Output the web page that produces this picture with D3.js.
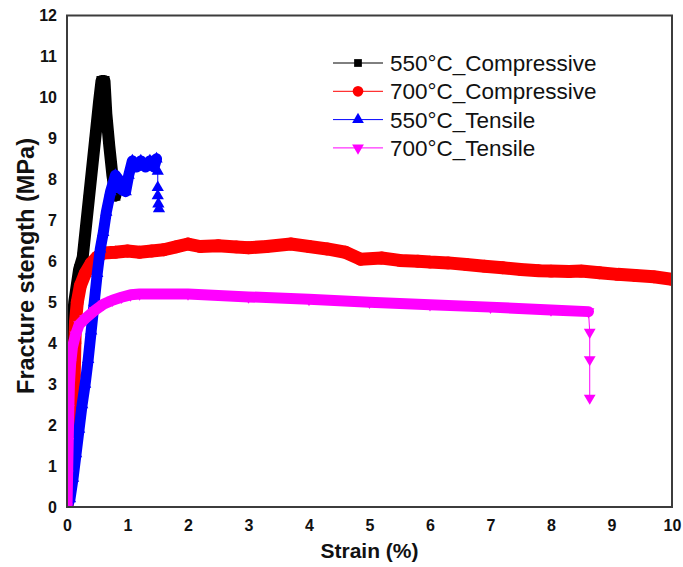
<!DOCTYPE html>
<html>
<head>
<meta charset="utf-8">
<script src="https://cdn.jsdelivr.net/npm/d3@7"></script>
<style>
  body { margin: 0; background: #fff; }
  svg { display: block; font-family: Arial, "Liberation Sans", sans-serif; }
</style>
</head>
<body>
<div id="chart"></div>
<script>
'use strict';

// tick labels
var xTicks = [0, 1, 2, 3, 4, 5, 6, 7, 8, 9, 10];
var yTicks = [0, 1, 2, 3, 4, 5, 6, 7, 8, 9, 10, 11, 12];

var seriesNames = ["550°C_Compressive", "700°C_Compressive", "550°C_Tensile", "700°C_Tensile"];

// 550°C compressive (strain %, MPa)
var comp550Strain = [0, 0.01, 0.02, 0.06, 0.12, 0.2, 0.26, 0.36, 0.46, 0.53, 0.57, 0.62, 0.65, 0.7, 0.75, 0.8];
var comp550Stress = [0, 1.5, 3.0, 4.0, 5.0, 5.8, 6.1, 7.5, 8.9, 9.9, 10.4, 10.4, 9.6, 8.8, 8.1, 7.6];

// 700°C compressive
var comp700Strain = [0, 0.04, 0.08, 0.1, 0.12, 0.13, 0.14, 0.17, 0.22, 0.3, 0.4, 0.5, 0.6, 0.8, 1.0, 1.2, 1.4, 1.6, 1.8, 2.0, 2.2, 2.5, 2.8, 3.0, 3.3, 3.7, 4.0, 4.3, 4.6, 4.85, 5.2, 5.5, 5.8, 6.0, 6.3, 6.6, 6.9, 7.2, 7.5, 7.8, 8.0, 8.3, 8.5, 8.8, 9.1, 9.4, 9.7, 10.0];
var comp700Stress = [0, 0.8, 1.6, 2.4, 3.2, 4.0, 4.5, 5.0, 5.4, 5.7, 5.95, 6.1, 6.2, 6.22, 6.25, 6.22, 6.25, 6.28, 6.35, 6.42, 6.36, 6.38, 6.35, 6.33, 6.36, 6.42, 6.36, 6.3, 6.22, 6.05, 6.08, 6.02, 6.0, 5.98, 5.96, 5.92, 5.88, 5.84, 5.8, 5.77, 5.76, 5.75, 5.76, 5.72, 5.68, 5.65, 5.62, 5.56];

// 550°C tensile
var tens550Strain = [0, 0.05, 0.1, 0.15, 0.2, 0.25, 0.3, 0.35, 0.4, 0.45, 0.5, 0.55, 0.6, 0.65, 0.72, 0.8, 0.85, 0.9, 0.97, 1.02, 1.08, 1.15, 1.22, 1.3, 1.37, 1.44, 1.48];
var tens550Stress = [0, 0.2, 0.7, 1.3, 1.9, 2.5, 3.0, 3.6, 4.3, 5.0, 5.7, 6.3, 6.7, 7.2, 7.7, 8.1, 8.0, 7.75, 7.7, 8.1, 8.45, 8.3, 8.45, 8.3, 8.45, 8.3, 8.5];
var tens550TailStrain = [1.5, 1.5, 1.5, 1.51, 1.52];
var tens550TailStress = [8.2, 7.8, 7.6, 7.4, 7.28];

// 700°C tensile
var tens700Strain = [0, 0.01, 0.02, 0.03, 0.04, 0.06, 0.09, 0.14, 0.2, 0.3, 0.46, 0.6, 0.75, 0.9, 1.05, 1.2, 2.0, 3.0, 4.0, 5.0, 6.0, 7.0, 8.0, 8.62];
var tens700Stress = [0, 0.8, 1.6, 2.4, 3.0, 3.5, 3.9, 4.2, 4.45, 4.6, 4.8, 4.95, 5.05, 5.12, 5.18, 5.2, 5.2, 5.13, 5.07, 5.0, 4.94, 4.88, 4.81, 4.77];
var tens700TailStrain = [8.64, 8.64, 8.64];
var tens700TailStress = [4.27, 3.6, 2.66];

var zip = function (xs, ys) { return xs.map(function (v, i) { return [v, ys[i]]; }); };

var series = [
    { name: seriesNames[0], color: "#000000", symbol: d3.symbolSquare, size: 100, rot: 0, band: 12,
      pts: zip(comp550Strain, comp550Stress), tail: [] },
    { name: seriesNames[1], color: "#ff0000", symbol: d3.symbolCircle, size: 130, rot: 0, band: 13,
      pts: zip(comp700Strain, comp700Stress), tail: [] },
    { name: seriesNames[2], color: "#0000ff", symbol: d3.symbolTriangle, size: 65, rot: 0, band: 11,
      pts: zip(tens550Strain, tens550Stress), tail: zip(tens550TailStrain, tens550TailStress) },
    { name: seriesNames[3], color: "#ff00ff", symbol: d3.symbolTriangle, size: 60, rot: 180, band: 11,
      pts: zip(tens700Strain, tens700Stress), tail: zip(tens700TailStrain, tens700TailStress) }
];

var W = 683, H = 567;
var margin = { top: 15.5, right: 11, bottom: 60, left: 67 };

var x = d3.scaleLinear().domain([0, 10]).range([margin.left, W - margin.right]);
var y = d3.scaleLinear().domain([0, 12]).range([H - margin.bottom, margin.top]);

var svg = d3.select("#chart").append("svg")
    .attr("width", W)
    .attr("height", H);

svg.append("defs").append("clipPath")
    .attr("id", "plotclip")
    .append("rect")
    .attr("x", x(0)).attr("y", y(12))
    .attr("width", x(10) - x(0)).attr("height", y(0) - y(12));

var line = d3.line()
    .x(function (d) { return x(d[0]); })
    .y(function (d) { return y(d[1]); });

var plot = svg.append("g").attr("clip-path", "url(#plotclip)");

series.forEach(function (s) {
    var g = plot.append("g");
    // dense marker band
    g.append("path")
        .datum(s.pts)
        .style("fill", "none")
        .style("stroke", s.color)
        .style("stroke-width", s.band + "px")
        .style("stroke-linejoin", "round")
        .style("stroke-linecap", "round")
        .attr("d", line);
    // thin connecting line incl. fracture tail
    g.append("path")
        .datum(s.pts.concat(s.tail))
        .style("fill", "none")
        .style("stroke", s.color)
        .style("stroke-width", "1px")
        .attr("d", line);
    g.selectAll(".pt")
        .data(s.pts.concat(s.tail))
        .enter().append("path")
        .attr("transform", function (d) { return "translate(" + x(d[0]) + "," + y(d[1]) + ") rotate(" + s.rot + ")"; })
        .attr("d", d3.symbol().type(s.symbol).size(s.size))
        .style("fill", s.color);
});

// frame
svg.append("rect")
    .attr("x", x(0)).attr("y", y(12))
    .attr("width", x(10) - x(0)).attr("height", y(0) - y(12))
    .style("fill", "none")
    .style("stroke", "#3c3c3c")
    .style("stroke-width", "2px");

var xAxis = d3.axisBottom(x).tickValues(xTicks).tickSize(0).tickPadding(13).tickFormat(d3.format("d"));
var yAxis = d3.axisLeft(y).tickValues(yTicks).tickSize(0).tickPadding(10).tickFormat(d3.format("d"));

var gx = svg.append("g")
    .attr("transform", "translate(0," + y(0) + ")")
    .call(xAxis);
var gy = svg.append("g")
    .attr("transform", "translate(" + x(0) + ",0)")
    .call(yAxis);

[gx, gy].forEach(function (g) {
    g.select(".domain").remove();
    g.selectAll("text")
        .style("font-family", "Arial, 'Liberation Sans', sans-serif")
        .style("font-size", "16px")
        .style("font-weight", "bold")
        .style("fill", "#111");
});

svg.append("text")
    .attr("x", (x(0) + x(10)) / 2)
    .attr("y", 558)
    .attr("text-anchor", "middle")
    .style("font-size", "21px")
    .style("font-weight", "bold")
    .style("fill", "#111")
    .text("Strain (%)");

svg.append("text")
    .attr("transform", "translate(34," + 266 + ") rotate(-90)")
    .attr("text-anchor", "middle")
    .style("font-size", "23.5px")
    .style("font-weight", "bold")
    .style("fill", "#111")
    .text("Fracture stength (MPa)");

// legend
var legend = svg.append("g").attr("transform", "translate(333,63)");
var rows = legend.selectAll("g")
    .data(series)
    .enter().append("g")
    .attr("transform", function (d, i) { return "translate(0," + (i * 28.3) + ")"; });

rows.append("line")
    .attr("x1", 0).attr("x2", 50)
    .attr("y1", 0).attr("y2", 0)
    .style("stroke", function (d) { return d.color; })
    .style("stroke-width", "1px");

rows.append("path")
    .attr("transform", function (d) { return "translate(25,0) rotate(" + d.rot + ")"; })
    .attr("d", function (d) {
        var sz = d.symbol === d3.symbolSquare ? 60 : (d.symbol === d3.symbolCircle ? 90 : 60);
        return d3.symbol().type(d.symbol).size(sz)();
    })
    .style("fill", function (d) { return d.color; });

rows.append("text")
    .attr("x", 57)
    .attr("dy", "0.36em")
    .style("font-size", "22.5px")
    .style("fill", "#111")
    .text(function (d) { return d.name; });
</script>
</body>
</html>
